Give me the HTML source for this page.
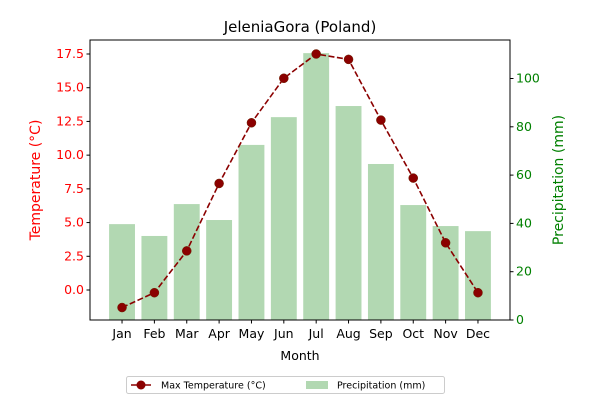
<!DOCTYPE html>
<html><head><meta charset="utf-8"><style>
body{margin:0;background:#fff;font-family:"DejaVu Sans","Liberation Sans",sans-serif}
svg text{font-family:"DejaVu Sans","Liberation Sans",sans-serif}
</style></head><body>
<svg id="chart" width="600" height="400" xmlns="http://www.w3.org/2000/svg"></svg>
<script>
const months=["Jan","Feb","Mar","Apr","May","Jun","Jul","Aug","Sep","Oct","Nov","Dec"];
const maxTemp=[-1.3,-0.2,2.9,7.9,12.4,15.7,17.5,17.1,12.6,8.3,3.5,-0.2];
const precip=[39.7,34.8,48,41.4,72.5,84,110.5,88.6,64.6,47.6,38.9,36.8];
const tempTicks=[0,2.5,5,7.5,10,12.5,15,17.5];
const precipTicks=[0,20,40,60,80,100];
const L=90,R=510,T=40,B=320;
const xs=i=>L+(i+0.99)/(12.98)*(R-L);
const yT=v=>290-v*13.486;
const yP=v=>B-v*2.415;
const svg=document.getElementById('chart');
const NS="http://www.w3.org/2000/svg";
function mk(tag,attrs,txt){const e=document.createElementNS(NS,tag);for(const k in attrs)e.setAttribute(k,attrs[k]);if(txt!==undefined)e.textContent=txt;svg.appendChild(e);return e;}
const bw=0.8*(R-L)/12.98;
precip.forEach((v,i)=>{const r=mk('rect',{x:xs(i)-bw/2,y:yP(v),width:bw,height:B-yP(v),fill:'#b2d8b2'});

});
const pts=maxTemp.map((v,i)=>xs(i)+','+yT(v)).join(' ');
const pl=mk('polyline',{points:pts,fill:'none',stroke:'#8b0000','stroke-width':1.6,'stroke-dasharray':'6,2.5'});


maxTemp.forEach((v,i)=>{const c=mk('circle',{cx:xs(i),cy:yT(v),r:4.5,fill:'#8b0000',stroke:'#6b2000','stroke-width':0.5});

});
const fr=mk('rect',{x:L,y:T,width:R-L,height:B-T,fill:'none',stroke:'#000','stroke-width':1});


tempTicks.forEach(v=>{const y=yT(v);mk('line',{x1:L-3.5,x2:L,y1:y,y2:y,stroke:'#000'});
const t=mk('text',{x:L-6,y:y+4,'text-anchor':'end','font-size':12.5,fill:'red'},v.toFixed(1));

});
precipTicks.forEach(v=>{const y=yP(v);mk('line',{x1:R,x2:R+3.5,y1:y,y2:y,stroke:'#000'});
const t=mk('text',{x:R+6,y:y+4,'font-size':12.5,fill:'green'},String(v));

});
months.forEach((m,i)=>{const x=xs(i);mk('line',{x1:x,x2:x,y1:B,y2:B+3.5,stroke:'#000'});
const t=mk('text',{x:x,y:B+18,'text-anchor':'middle','font-size':12.5},m);

});
</script>
<svg style="position:absolute;left:0;top:0" width="600" height="400" xmlns="http://www.w3.org/2000/svg">
<text x="300" y="32" text-anchor="middle" font-size="15">JeleniaGora (Poland)</text>
<text x="300" y="360" text-anchor="middle" font-size="12.5">Month</text>
<text transform="translate(40,180) rotate(-90)" text-anchor="middle" font-size="14" fill="red">Temperature (°C)</text>
<text transform="translate(563,180) rotate(-90)" text-anchor="middle" font-size="14" fill="green">Precipitation (mm)</text>
<g>
<rect x="126.5" y="376.5" width="318" height="17" rx="2" fill="#fff" stroke="#ccc"/>
<line x1="131" x2="151" y1="385" y2="385" stroke="#8b0000" stroke-width="1.6"/>
<circle cx="141" cy="385" r="4.5" fill="#8b0000"/>
<text x="161" y="388.5" font-size="9.5">Max Temperature (°C)</text>
<rect x="306" y="381" width="22" height="8" fill="#b2d8b2"/>
<text x="337" y="388.5" font-size="9.5">Precipitation (mm)</text>
</g>
</svg>
</body></html>
